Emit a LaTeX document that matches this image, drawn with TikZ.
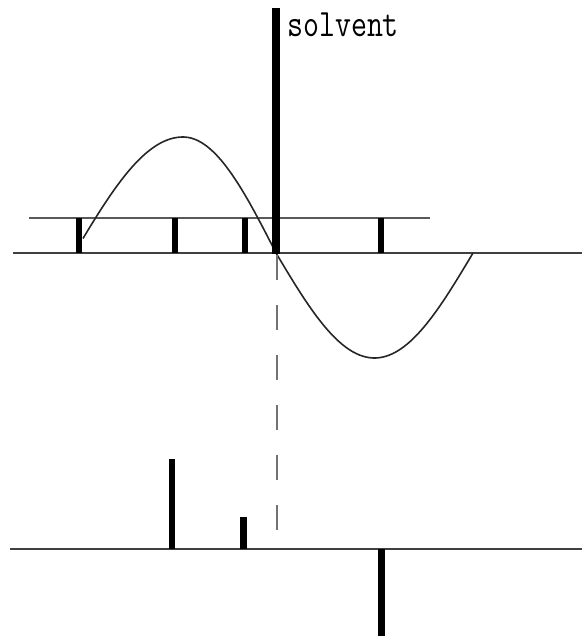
\documentclass[tikz,border=0pt]{standalone}
\usepackage{fontspec}
\begin{document}
\begin{tikzpicture}[x=1pt,y=-1pt,
  axisline/.style={draw=black!75,line width=2pt},
  thinline/.style={draw=black!65,line width=2pt},
  bar/.style={draw=black,line width=5.5pt},
  widebar/.style={draw=black,line width=7pt},
  curve/.style={draw=black!85,line width=1.6pt},
  dashline/.style={draw=black!55,line width=1.8pt,dash pattern=on 25pt off 25pt}]
\useasboundingbox (0,0) rectangle (582,636);
% top axis and upper reference line
\draw[axisline] (13,253) -- (582,253);
\draw[thinline] (29,218) -- (430,218);
% ticks
\draw[bar] (79,218) -- (79,253);
\draw[bar] (175,218) -- (175,253);
\draw[bar] (245,218) -- (245,253);
\draw[bar] (381,218) -- (381,253);
% curve
\draw[curve] plot[domain=-82.8:0,samples=40] ({183+\x/90*108.7},{137+116*(1-cos(\x))})
  -- plot[domain=0:90,samples=40] ({183+\x/90*93},{137+116*(1-cos(\x))})
  -- plot[domain=0:180,samples=60] ({276+\x/180*197},{253+105*sin(\x)});
% solvent bar
\draw[draw=black,line width=8.5pt] (276,8) -- (276,254);
\node[anchor=base west,inner sep=0pt,yscale=1.25,transform shape,font=\ttfamily\fontsize{31}{31}\selectfont] (solv) at (287,37) {solvent};
% dashed line
\draw[dashline] (277,255) -- (277,532);
% bottom axis
\draw[axisline] (10,549) -- (582,549);
\draw[bar] (172,459) -- (172,549);
\draw[widebar] (243,517) -- (243,549);
\draw[widebar] (381,549) -- (381,636);
\end{tikzpicture}
\end{document}
